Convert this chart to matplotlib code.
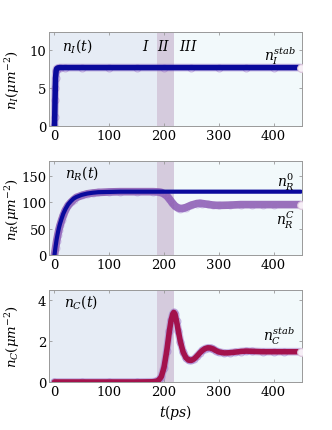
import matplotlib
matplotlib.use("Agg")
import matplotlib.pyplot as plt

# ---- data ----
t_I = [0, 0.5, 1, 1.5, 2, 3, 4, 6, 10, 20, 50, 100, 150, 200, 250, 300, 350, 400, 450]
n_I = [0, 1.2, 3.4, 5.0, 6.3, 7.2, 7.5, 7.6, 7.65, 7.65, 7.65, 7.65, 7.65, 7.65, 7.65, 7.65, 7.65, 7.65, 7.65]

t_R = [0, 2, 4, 6, 8, 10, 13, 16, 20, 25, 30, 35, 40, 50, 60, 70, 80, 100, 120, 150, 180, 190,
       195, 200, 205, 210, 215, 220, 225, 230, 235, 240, 250, 260, 265, 270, 280, 290, 300, 320,
       340, 360, 380, 400, 450]
n_R0 = [0, 16, 30, 41, 51, 59, 69, 78, 87, 96, 102, 107, 110, 114, 116.5, 118, 119, 119.5, 120, 120, 120, 120,
        120, 120, 120, 120, 120, 120, 120, 120, 120, 120, 120, 120, 120, 120, 120, 120, 120, 120,
        120, 120, 120, 120, 120]
n_RC = [0, 14, 27, 38, 48, 56, 66, 75, 85, 94, 100, 105, 109, 113, 116, 117.5, 118.5, 119.5, 120, 120, 120, 119.5,
        118.5, 116, 112, 106, 99, 93, 89.5, 88, 88.5, 90, 94.5, 97.5, 98, 97.5, 96, 94.5, 94, 94.5,
        95.5, 95.5, 95.5, 95.5, 95.5]

t_C = [0, 50, 100, 150, 180, 185, 190, 195, 200, 205, 210, 213, 216, 218, 220, 223, 226, 230, 235,
       240, 245, 250, 255, 260, 265, 270, 275, 280, 285, 290, 295, 300, 310, 320, 330, 340, 350,
       360, 380, 400, 420, 450]
n_C = [0, 0, 0, 0, 0.01, 0.03, 0.08, 0.25, 0.7, 1.5, 2.5, 3.0, 3.3, 3.38, 3.3, 2.95, 2.5, 1.95, 1.45,
       1.18, 1.06, 1.05, 1.12, 1.25, 1.4, 1.53, 1.62, 1.66, 1.65, 1.6, 1.52, 1.46, 1.41, 1.42, 1.45, 1.48, 1.5,
       1.49, 1.47, 1.47, 1.47, 1.47]

xticks = [0, 100, 200, 300, 400]
region_edges = [-10, 187, 219, 452]
region_labels = ["$I$", "$II$", "$III$"]

# ---- style ----
plt.rcParams['font.family'] = ['DejaVu Serif']
plt.rcParams['mathtext.fontset'] = 'dejavuserif'
plt.rcParams['font.size'] = 8

c_I, c_II, c_III = '#e6ecf5', '#d5cbdd', '#f2f9fb'
blue = '#0a0a9c'
purple = '#8a58b0'
crimson = '#a3124c'
halo = '#9a70c8'

fig = plt.figure(figsize=(3.32, 4.31), dpi=100)
W = 0.762
L = 0.1476
axes = [fig.add_axes([L, 0.7053, W, 0.218]),
        fig.add_axes([L, 0.406, W, 0.218]),
        fig.add_axes([L, 0.1114, W, 0.2135])]

ylims = [(0, 12.3), (0, 178), (0, 4.47)]
yticks = [[0, 5, 10], [0, 50, 100, 150], [0, 2, 4]]
ylabels = [r'$n_I(\mu m^{-2})$', r'$n_R(\mu m^{-2})$', r'$n_C(\mu m^{-2})$']

for ax, yl, yt, ylab in zip(axes, ylims, yticks, ylabels):
    ax.set_xlim(region_edges[0], region_edges[-1])
    ax.set_ylim(*yl)
    for (a, b), c in zip(zip(region_edges[:-1], region_edges[1:]), [c_I, c_II, c_III]):
        ax.axvspan(a, b, color=c, lw=0, zorder=0)
    ax.set_xticks(xticks)
    ax.set_yticks(yt)
    ax.tick_params(direction='in', length=2.5, width=0.6, color='#999999',
                   top=True, right=True, labelsize=9.5, pad=2)
    for s in ax.spines.values():
        s.set_color('#999999')
        s.set_linewidth(0.7)
    ax.set_ylabel(ylab, fontsize=9.5, labelpad=2)
    ax.yaxis.set_label_coords(-0.105, 0.5)


def draw_curve(ax, t, y, color, lw=4.0):
    ax.plot(t, y, color=halo, lw=lw + 1.6, alpha=0.45, solid_capstyle='round', zorder=2)
    ax.plot(t, y, 'o', ms=5, mfc='none', mec=halo, mew=0.8, alpha=0.45, zorder=2)
    ax.plot(t, y, color=color, lw=lw, solid_capstyle='round', zorder=3)
    ax.plot([t[-1]], [y[-1]], 'o', ms=5.5, mfc='#f6eef6', mec='#dcc6dc', mew=0.8, zorder=4)


# top
ax = axes[0]
draw_curve(ax, t_I, n_I, blue, lw=4)
ax.text(14, 10.6, r'$n_I(t)$', fontsize=10, va='center', ha='left')
for lab, x in zip(region_labels, [167, 199, 244]):
    ax.text(x, 10.6, lab, fontsize=10, va='center', ha='center')
ax.text(412, 9.3, r'$n_I^{stab}$', fontsize=10, va='center', ha='center')

# middle
ax = axes[1]
ax.plot(t_R, n_RC, color=purple, lw=5.5, alpha=0.85, solid_capstyle='round', zorder=2)
ax.plot(t_R, n_RC, 'o', ms=5, mfc='none', mec=halo, mew=0.8, alpha=0.35, zorder=2)
ax.plot(t_R, n_R0, color=blue, lw=3, solid_capstyle='round', zorder=3)
ax.plot([t_R[-1]], [n_RC[-1]], 'o', ms=5.5, mfc='#f6eef6', mec='#dcc6dc', mew=0.8, zorder=4)
ax.text(20, 157, r'$n_R(t)$', fontsize=10, va='center', ha='left')
ax.text(422, 140, r'$n_R^0$', fontsize=10, va='center', ha='center')
ax.text(422, 67, r'$n_R^C$', fontsize=10, va='center', ha='center')

# bottom
ax = axes[2]
draw_curve(ax, t_C, n_C, crimson, lw=4)
ax.text(18, 3.95, r'$n_C(t)$', fontsize=10, va='center', ha='left')
ax.text(410, 2.25, r'$n_C^{stab}$', fontsize=10, va='center', ha='center')
ax.set_xlabel(r'$t(ps)$', fontsize=10, labelpad=3)

fig.savefig('out.png', dpi=100)
